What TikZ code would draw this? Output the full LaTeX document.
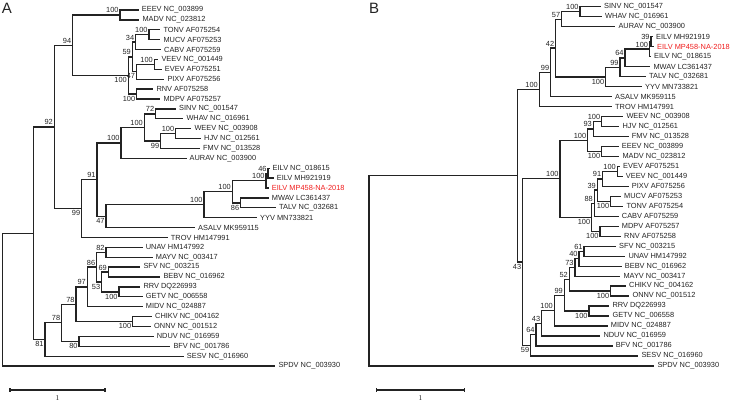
\documentclass[tikz,border=0pt]{standalone}
\usepackage{fontspec}
\setmainfont{Liberation Sans}
\newfontfamily\scalefont{Liberation Serif}
\usetikzlibrary{calc}
\definecolor{eilred}{RGB}{240,30,30}
\definecolor{ink}{RGB}{35,35,35}
\tikzset{
  br/.style={line width=1.3bp, draw=ink},
  leaf/.style={anchor=west, inner sep=3bp, text=ink, font=\fontsize{7.4bp}{8bp}\selectfont},
  bsl/.style={inner xsep=1.3bp, inner ysep=1.8bp, text=ink, font=\fontsize{7.4bp}{8bp}\selectfont},
  panel/.style={anchor=north west, inner sep=0pt, text=ink, font=\fontsize{15bp}{16bp}\selectfont},
  scl/.style={inner sep=0pt, text=ink, font=\scalefont\fontsize{7.4bp}{8bp}\selectfont},
}
\newcommand\LeafA[3]{\coordinate (tA#1) at (#2,{10+9.89*#1}); \node[leaf] (nA#1) at (tA#1) {#3};}
\newcommand\LeafB[3]{\coordinate (tB#1) at (#2,{6.7+9.98*#1}); \node[leaf] (nB#1) at (tB#1) {#3};}
\newcommand\Inner[4]{\path let \p1=(#3), \p2=(#4) in coordinate (#1) at ({#2bp},{(\y1+\y2)/2});
  \draw[br] (#1) |- (#3); \draw[br] (#1) |- (#4);}
\newcommand\Lab[3]{\node[bsl, anchor=#2 east] (#1l) at (#1) {#3};}
\begin{document}
\begin{tikzpicture}[x=1bp, y=-1bp]
\useasboundingbox (0,0) rectangle (733,403);
% ---------------- Panel A ----------------
\node[panel] (pA) at (1.7,3.3) {A};
\LeafA{0}{138.7}{EEEV NC\_003899}
\LeafA{1}{139.3}{MADV NC\_023812}
\LeafA{2}{160.3}{TONV AF075254}
\LeafA{3}{160.3}{MUCV AF075253}
\LeafA{4}{161}{CABV AF075259}
\LeafA{5}{158.3}{VEEV NC\_001449}
\LeafA{6}{161.7}{EVEV AF075251}
\LeafA{7}{164.3}{PIXV AF075256}
\LeafA{8}{153.3}{RNV AF075258}
\LeafA{9}{160.3}{MDPV AF075257}
\LeafA{10}{176}{SINV NC\_001547}
\LeafA{11}{183.3}{WHAV NC\_016961}
\LeafA{12}{191.3}{WEEV NC\_003908}
\LeafA{13}{201}{HJV NC\_012561}
\LeafA{14}{200}{FMV NC\_013528}
\LeafA{15}{186.5}{AURAV NC\_003900}
\LeafA{16}{269.5}{EILV NC\_018615}
\LeafA{17}{273.7}{EILV MH921919}
\LeafA{18}{268.7}{\color{eilred}EILV MP458-NA-2018}
\LeafA{19}{268.7}{MWAV LC361437}
\LeafA{20}{276}{TALV NC\_032681}
\LeafA{21}{257}{YYV MN733821}
\LeafA{22}{195}{ASALV MK959115}
\LeafA{23}{167.7}{TROV HM147991}
\LeafA{24}{142.7}{UNAV HM147992}
\LeafA{25}{152.7}{MAYV NC\_003417}
\LeafA{26}{140.3}{SFV NC\_003215}
\LeafA{27}{160.3}{BEBV NC\_016962}
\LeafA{28}{140.3}{RRV DQ226993}
\LeafA{29}{142.7}{GETV NC\_006558}
\LeafA{30}{142.7}{MIDV NC\_024887}
\LeafA{31}{152}{CHIKV NC\_004162}
\LeafA{32}{151}{ONNV NC\_001512}
\LeafA{33}{153.7}{NDUV NC\_016959}
\LeafA{34}{170.3}{BFV NC\_001786}
\LeafA{35}{183.7}{SESV NC\_016960}
\LeafA{36}{275.3}{SPDV NC\_003930}
\Inner{a1}{120}{tA0}{tA1} \Lab{a1}{south}{100}
\Inner{a2}{149}{tA2}{tA3} \Lab{a2}{south}{100}
\Inner{a3}{135.7}{a2}{tA4} \Lab{a3}{south}{34}
\Inner{a4}{154.3}{tA5}{tA6} \Lab{a4}{south}{100}
\Inner{a5}{136.5}{a4}{tA7} \Lab{a5}{north}{47}
\Inner{a6}{132.3}{a3}{a5} \Lab{a6}{south}{59}
\Inner{a7}{136.7}{tA8}{tA9} \Lab{a7}{north}{100}
\Inner{a8}{128.3}{a6}{a7} \Lab{a8}{north}{100}
\Inner{a9}{72.7}{a1}{a8} \Lab{a9}{south}{94}
\Inner{a10}{155.7}{tA10}{tA11} \Lab{a10}{south}{72}
\Inner{a11}{175.7}{tA12}{tA13} \Lab{a11}{south}{100}
\Inner{a12}{160.7}{a11}{tA14} \Lab{a12}{north}{99}
\Inner{a13}{144.3}{a10}{a12} \Lab{a13}{south}{100}
\Inner{a14}{121}{a13}{tA15} \Lab{a14}{south}{100}
\Inner{a15}{268}{tA16}{tA17} \Lab{a15}{south}{46}
\Inner{a16}{266}{a15}{tA18} \Lab{a16}{south}{100}
\Inner{a17}{240.7}{tA19}{tA20} \Lab{a17}{north}{86}
\Inner{a18}{232.3}{a16}{a17} \Lab{a18}{south}{100}
\Inner{a19}{204}{a18}{tA21} \Lab{a19}{south}{100}
\Inner{a20}{106}{a19}{tA22} \Lab{a20}{north}{47}
\Inner{a21}{97}{a14}{a20} \Lab{a21}{south}{91}
\Inner{a22}{81.7}{a21}{tA23} \Lab{a22}{north}{99}
\Inner{a23}{54.3}{a9}{a22} \Lab{a23}{south}{92}
\Inner{a24}{106}{tA24}{tA25} \Lab{a24}{south}{82}
\Inner{a25}{108.3}{tA26}{tA27} \Lab{a25}{south}{69}
\Inner{a26}{119}{tA28}{tA29} \Lab{a26}{north}{100}
\Inner{a27}{101.7}{a25}{a26} \Lab{a27}{north}{53}
\Inner{a28}{96.7}{a24}{a27} \Lab{a28}{south}{86}
\Inner{a29}{87.3}{a28}{tA30} \Lab{a29}{south}{97}
\Inner{a30}{132.7}{tA31}{tA32} \Lab{a30}{north}{100}
\Inner{a31}{76}{a29}{a30} \Lab{a31}{south}{78}
\Inner{a32}{79}{tA33}{tA34} \Lab{a32}{north}{80}
\Inner{a33}{61.7}{a31}{a32} \Lab{a33}{south}{78}
\Inner{a34}{45}{a33}{tA35} \Lab{a34}{north}{81}
\Inner{a35}{33.3}{a23}{a34}
\Inner{a36}{2.7}{a35}{tA36}
\coordinate (sa1) at (10,390); \coordinate (sa2) at (105,390);
\draw[br] (sa1) -- (sa2);
\draw[br] (sa1) ++(0,-2) -- ++(0,4);
\draw[br] (sa2) ++(0,-2) -- ++(0,4);
\node[scl] (sal) at (57.5,398) {1};
% ---------------- Panel B ----------------
\node[panel] (pB) at (369,3.3) {B};
\LeafB{0}{601}{SINV NC\_001547}
\LeafB{1}{602}{WHAV NC\_016961}
\LeafB{2}{615.3}{AURAV NC\_003900}
\LeafB{3}{653}{EILV MH921919}
\LeafB{4}{654}{\color{eilred}EILV MP458-NA-2018}
\LeafB{5}{651}{EILV NC\_018615}
\LeafB{6}{650.3}{MWAV LC361437}
\LeafB{7}{646}{TALV NC\_032681}
\LeafB{8}{642}{YYV MN733821}
\LeafB{9}{612}{ASALV MK959115}
\LeafB{10}{612}{TROV HM147991}
\LeafB{11}{623.3}{WEEV NC\_003908}
\LeafB{12}{619.3}{HJV NC\_012561}
\LeafB{13}{628.7}{FMV NC\_013528}
\LeafB{14}{618.7}{EEEV NC\_003899}
\LeafB{15}{619.3}{MADV NC\_023812}
\LeafB{16}{620}{EVEV AF075251}
\LeafB{17}{622.7}{VEEV NC\_001449}
\LeafB{18}{628.7}{PIXV AF075256}
\LeafB{19}{621}{MUCV AF075253}
\LeafB{20}{623.3}{TONV AF075254}
\LeafB{21}{618.7}{CABV AF075259}
\LeafB{22}{618.7}{MDPV AF075257}
\LeafB{23}{621}{RNV AF075258}
\LeafB{24}{616}{SFV NC\_003215}
\LeafB{25}{625.3}{UNAV HM147992}
\LeafB{26}{621.7}{BEBV NC\_016962}
\LeafB{27}{620.3}{MAYV NC\_003417}
\LeafB{28}{626}{CHIKV NC\_004162}
\LeafB{29}{629.3}{ONNV NC\_001512}
\LeafB{30}{609.3}{RRV DQ226993}
\LeafB{31}{609.3}{GETV NC\_006558}
\LeafB{32}{607.7}{MIDV NC\_024887}
\LeafB{33}{600.3}{NDUV NC\_016959}
\LeafB{34}{612.7}{BFV NC\_001786}
\LeafB{35}{638.3}{SESV NC\_016960}
\LeafB{36}{654.3}{SPDV NC\_003930}
\Inner{b1}{580}{tB0}{tB1} \Lab{b1}{south}{100}
\Inner{b2}{561.7}{b1}{tB2} \Lab{b2}{south}{57}
\Inner{b3}{651}{tB3}{tB4} \Lab{b3}{south}{39}
\Inner{b4}{649.5}{b3}{tB5} \Lab{b4}{south}{100}
\Inner{b5}{625}{b4}{tB6} \Lab{b5}{south}{64}
\Inner{b6}{620}{b5}{tB7} \Lab{b6}{south}{99}
\Inner{b7}{605.7}{b6}{tB8} \Lab{b7}{north}{100}
\Inner{b8}{555.7}{b2}{b7} \Lab{b8}{south}{42}
\Inner{b9}{550.7}{b8}{tB9} \Lab{b9}{south}{99}
\Inner{b10}{539.3}{b9}{tB10} \Lab{b10}{south}{100}
\Inner{b11}{601.7}{tB11}{tB12} \Lab{b11}{south}{100}
\Inner{b12}{593.3}{b11}{tB13} \Lab{b12}{south}{93}
\Inner{b13}{601.7}{tB14}{tB15} \Lab{b13}{north}{100}
\Inner{b14}{587.7}{b12}{b13} \Lab{b14}{south}{100}
\Inner{b15}{617.3}{tB16}{tB17} \Lab{b15}{south}{100}
\Inner{b16}{602.7}{b15}{tB18} \Lab{b16}{south}{91}
\Inner{b17}{610.7}{tB19}{tB20} \Lab{b17}{north}{100}
\Inner{b18}{597.3}{b16}{b17} \Lab{b18}{south}{39}
\Inner{b19}{594.3}{b18}{tB21} \Lab{b19}{south}{88}
\Inner{b20}{600}{tB22}{tB23} \Lab{b20}{north}{100}
\Inner{b21}{591.7}{b19}{b20} \Lab{b21}{north}{100}
\Inner{b22}{560}{b14}{b21} \Lab{b22}{south}{100}
\Inner{b23}{584}{tB24}{tB25} \Lab{b23}{south}{61}
\Inner{b24}{579}{b23}{tB26} \Lab{b24}{south}{40}
\Inner{b25}{575}{b24}{tB27} \Lab{b25}{south}{73}
\Inner{b26}{610.7}{tB28}{tB29} \Lab{b26}{north}{100}
\Inner{b27}{569.3}{b25}{b26} \Lab{b27}{south}{52}
\Inner{b28}{589}{tB30}{tB31} \Lab{b28}{north}{100}
\Inner{b29}{564.3}{b27}{b28} \Lab{b29}{south}{99}
\Inner{b30}{554.3}{b29}{tB32} \Lab{b30}{south}{100}
\Inner{b31}{541.7}{b30}{tB33} \Lab{b31}{south}{43}
\Inner{b32}{536}{b31}{tB34} \Lab{b32}{south}{64}
\Inner{b33}{530.7}{b32}{tB35} \Lab{b33}{north}{59}
\Inner{b34}{522.7}{b22}{b33} \Lab{b34}{north}{43}
\Inner{b35}{517.3}{b10}{b34}
\Inner{b36}{369}{b35}{tB36}
\coordinate (sb1) at (376.7,390); \coordinate (sb2) at (464.3,390);
\draw[br] (sb1) -- (sb2);
\draw[br] (sb1) ++(0,-2) -- ++(0,4);
\draw[br] (sb2) ++(0,-2) -- ++(0,4);
\node[scl] (sbl) at (420.5,398) {1};
\end{tikzpicture}
\end{document}
